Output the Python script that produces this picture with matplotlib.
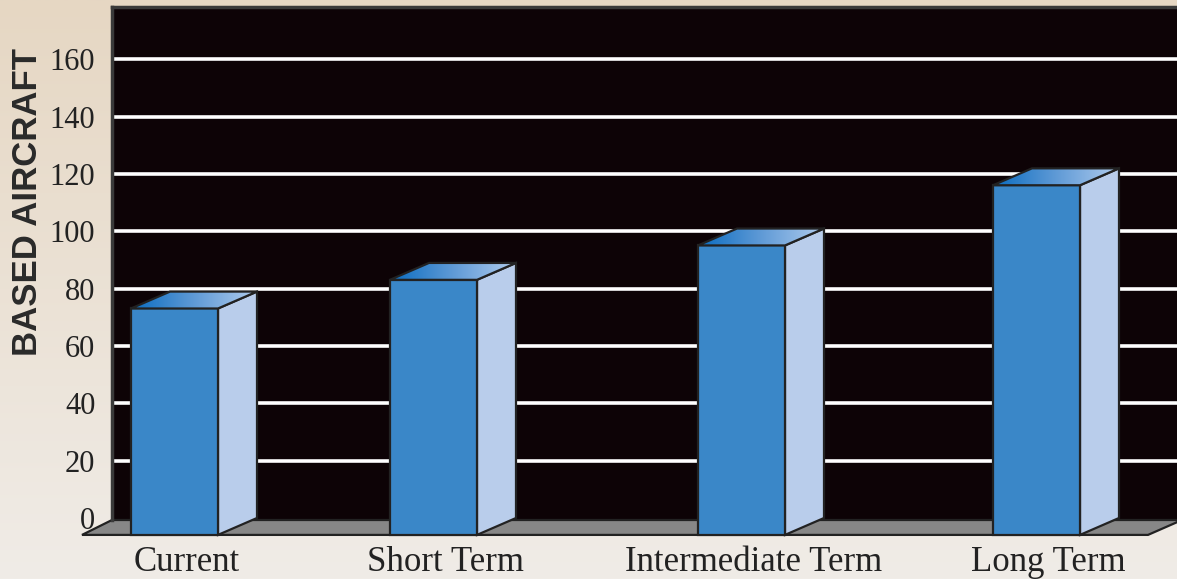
import numpy as np
import matplotlib
matplotlib.use('Agg')
import matplotlib.pyplot as plt
from matplotlib.patches import Polygon
from matplotlib.colors import LinearSegmentedColormap

# ------------------------------------------------------------
# Data
# ------------------------------------------------------------
categories = ['Current', 'Short Term', 'Intermediate Term', 'Long Term']
based_aircraft = [79, 89, 101, 122]
y_ticks = [0, 20, 40, 60, 80, 100, 120, 140, 160]

# layout (x in axis units = pixels from the back-wall left edge)
bar_left = [19, 278, 586, 881]
bar_w = 87
depth_x = 39          # 3-D offset to the back, x
depth_y = 5.9         # 3-D offset to the back, y (value units)

FRONT = '#3a87c8'
SIDE = '#b9cdeb'
EDGE = '#222222'

fig = plt.figure(figsize=(11.77, 5.79), dpi=100)

# paper background (soft vertical gradient)
bg = fig.add_axes([0, 0, 1, 1], zorder=-10)
bg_cmap = LinearSegmentedColormap.from_list('paper', ['#e6d7c3', '#f0ece7'])
bg.imshow(np.linspace(0, 1, 256)[:, None], aspect='auto', cmap=bg_cmap,
          extent=[0, 1, 0, 1], origin='upper')
bg.set_axis_off()

ax = fig.add_axes([112 / 1177, 59 / 579, 1 - 112 / 1177, 513 / 579])
ax.set_facecolor('#0d0306')

for s in ['right', 'bottom']:
    ax.spines[s].set_visible(False)
for s in ['top', 'left']:
    ax.spines[s].set_color('#3a3a3a')
    ax.spines[s].set_linewidth(2.5)

# gridlines on the back wall
for t in y_ticks[1:]:
    ax.axhline(t, color='white', lw=2.6, zorder=1)

# floor
y0 = -0.7
floor = Polygon([(-30, -depth_y), (0, y0), (1070, y0), (1036, -depth_y)],
                closed=True, fc='#878787', ec=EDGE, lw=1.6,
                clip_on=False, zorder=2)
ax.add_patch(floor)

top_cmap = LinearSegmentedColormap.from_list('top', ['#0a6cc0', '#5f9ad6', '#b0ccee'])

for x0, v in zip(bar_left, based_aircraft):
    x1 = x0 + bar_w
    # side face
    side = Polygon([(x1, -depth_y), (x1 + depth_x, 0), (x1 + depth_x, v), (x1, v - depth_y)],
                   closed=True, fc=SIDE, ec=EDGE, lw=1.6, clip_on=False, zorder=3)
    ax.add_patch(side)
    # front face
    front = Polygon([(x0, -depth_y), (x1, -depth_y), (x1, v - depth_y), (x0, v - depth_y)],
                    closed=True, fc=FRONT, ec=EDGE, lw=1.6, clip_on=False, zorder=4)
    ax.add_patch(front)
    # top face with gradient
    top_pts = [(x0, v - depth_y), (x0 + depth_x, v), (x1 + depth_x, v), (x1, v - depth_y)]
    top = Polygon(top_pts, closed=True, fc='none', ec=EDGE, lw=1.6, zorder=6)
    ax.add_patch(top)
    im = ax.imshow(np.linspace(0, 1, 256)[None, :], cmap=top_cmap, aspect='auto',
                   extent=[x0, x1 + depth_x, v - depth_y, v], zorder=5)
    im.set_clip_path(top)

ax.set_xlim(0, 1065)
ax.set_ylim(y0, 178.3)

ax.set_yticks(y_ticks)
ax.set_yticklabels([str(t) for t in y_ticks], family='Liberation Serif',
                   fontsize=22, color='#222222')
ax.tick_params(axis='y', length=0, pad=12)

centers = [x + bar_w / 2 + 12 for x in bar_left]
ax.set_xticks(centers)
ax.set_xticklabels(categories, family='Liberation Serif', fontsize=25, color='#222222')
ax.tick_params(axis='x', length=0, pad=19)

fig.text(28 / 1177, 1 - 202 / 579, 'BASED AIRCRAFT', rotation=90, ha='center', va='center',
         family='Liberation Sans', fontweight='bold', fontsize=25, color='#2a2a2a')

fig.savefig('out.png', dpi=100)
